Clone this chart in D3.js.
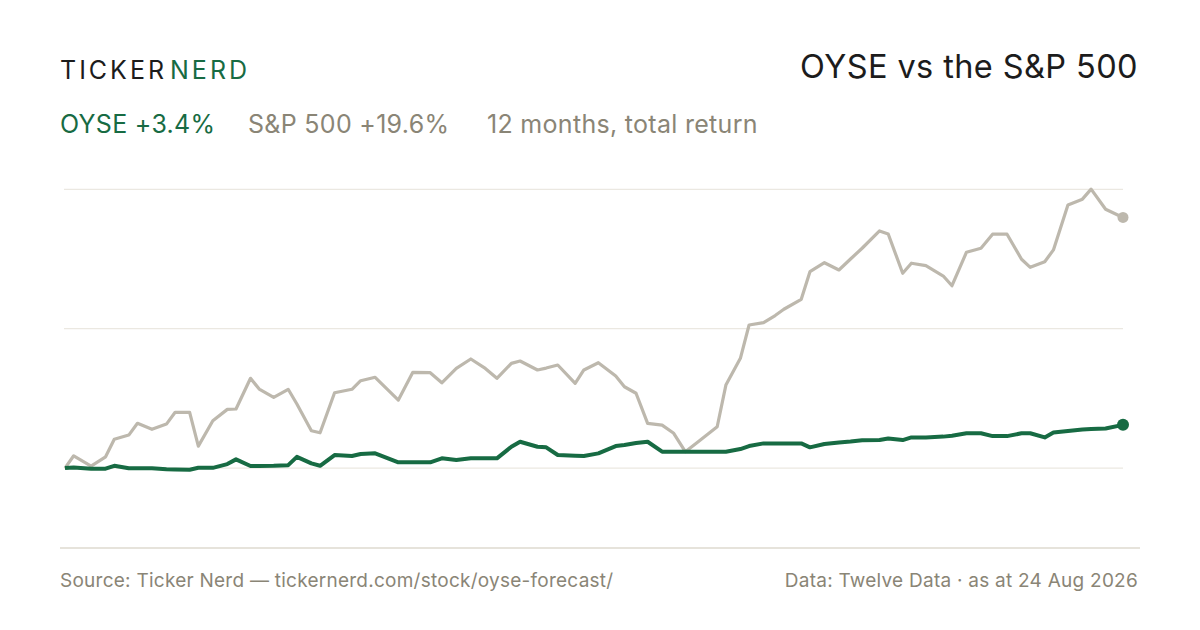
<!DOCTYPE html>
<html lang="en">
<head>
<meta charset="UTF-8">
<title>OYSE vs the S&amp;P 500</title>
<style>
    body {
        margin: 0;
        padding: 0;
        background: #ffffff;
    }
    svg text {
        font-family: Inter, "Noto Sans", sans-serif;
    }
</style>
</head>
<body>
<div id="chart"></div>
<script src="https://cdn.jsdelivr.net/npm/d3@7"></script>
<script>
    // days since 24 Aug 2025 (sample points of the series)
    const days = [0, 3, 9, 14, 17, 22, 25, 30, 35, 38, 43, 46, 51, 56, 59, 64, 67, 72, 77, 80,
        85, 88, 93, 99, 102, 107, 115, 120, 126, 130, 135, 140, 145, 149, 154, 157, 163, 166, 170, 176,
        179, 184, 190, 193, 197, 201, 206, 210, 214, 218, 225, 228, 233, 236, 241, 245, 248, 254, 257, 262,
        267, 271, 275, 281, 284, 289, 292, 297, 303, 306, 311, 316, 320, 325, 330, 333, 338, 341, 346, 351,
        354, 359, 365];

    // total return, %
    const spxReturn = [0, 0.96, 0.16, 0.88, 2.25, 2.58, 3.50, 3.03, 3.44, 4.36, 4.36, 1.72, 3.70, 4.59, 4.62, 7.02, 6.18, 5.53, 6.16, 5.01,
        2.92, 2.76, 5.89, 6.16, 6.83, 7.10, 5.32, 7.49, 7.46, 6.67, 7.80, 8.53, 7.79, 7.02, 8.19, 8.37, 7.67, 7.82, 8.06, 6.63,
        7.67, 8.24, 7.20, 6.36, 5.85, 3.50, 3.36, 2.72, 1.28, 1.98, 3.23, 6.49, 8.58, 11.19, 11.37, 11.93, 12.42, 13.20, 15.36, 16.06,
        15.49, 16.35, 17.19, 18.54, 18.31, 15.23, 16.02, 15.83, 15.02, 14.26, 16.88, 17.19, 18.29, 18.29, 16.33, 15.70, 16.14, 17.06, 20.58, 21.03,
        21.81, 20.24, 19.6];

    const oyseReturn = [0, 0.05, -0.05, -0.05, 0.18, -0.02, -0.02, -0.02, -0.10, -0.12, -0.13, 0.02, 0.02, 0.31, 0.68, 0.16, 0.16, 0.18, 0.23, 0.88,
        0.37, 0.18, 1.02, 0.94, 1.10, 1.15, 0.45, 0.45, 0.45, 0.76, 0.63, 0.76, 0.76, 0.76, 1.67, 2.06, 1.67, 1.62, 1.02, 0.96,
        0.94, 1.15, 1.72, 1.80, 1.96, 2.06, 1.28, 1.28, 1.28, 1.28, 1.28, 1.28, 1.49, 1.72, 1.93, 1.93, 1.93, 1.93, 1.62, 1.88,
        2.00, 2.07, 2.17, 2.19, 2.31, 2.19, 2.40, 2.40, 2.46, 2.53, 2.72, 2.72, 2.50, 2.50, 2.72, 2.72, 2.40, 2.78, 2.90, 3.01,
        3.05, 3.09, 3.38];

    const gridValues = [0, 10.9, 21.8];

    const w = 1200;
    const h = 630;

    const green = "#176b43";
    const grey = "#bdb8ad";
    const mutedText = "#8a8576";

    const svg = d3.select("#chart")
        .append("svg")
        .attr("width", w)
        .attr("height", h)
        .attr("viewBox", `0 0 ${w} ${h}`);

    // header
    const brand = svg.append("text")
        .attr("x", 60)
        .attr("y", 79)
        .style("font-size", "25px")
        .style("letter-spacing", "3px");
    brand.append("tspan").attr("fill", "#1c1c1c").text("TICKER");
    brand.append("tspan").attr("fill", green).attr("dx", 3).text("NERD");

    svg.append("text")
        .attr("x", 1138)
        .attr("y", 78)
        .attr("text-anchor", "end")
        .attr("fill", "#1c1c1c")
        .style("font-size", "32.5px")
        .style("letter-spacing", "0.4px")
        .text("OYSE vs the S&P 500");

    const subtitle = [
        { x: 60, fill: green, text: "OYSE +3.4%" },
        { x: 248, fill: mutedText, text: "S&P 500 +19.6%" },
        { x: 487, fill: mutedText, text: "12 months, total return" }
    ];

    svg.append("g")
        .selectAll("text")
        .data(subtitle)
        .enter()
        .append("text")
        .attr("x", d => d.x)
        .attr("y", 133)
        .attr("fill", d => d.fill)
        .style("font-size", "25px")
        .style("letter-spacing", "0.3px")
        .text(d => d.text);

    // scales
    const x = d3.scaleLinear()
        .domain([0, 365])
        .range([65, 1123]);

    const y = d3.scaleLinear()
        .domain([-6.25, 21.8])
        .range([548, 189.3]);

    // grid
    svg.append("g")
        .selectAll("line")
        .data(gridValues)
        .enter()
        .append("line")
        .attr("x1", 64)
        .attr("x2", 1123)
        .attr("y1", d => y(d))
        .attr("y2", d => y(d))
        .attr("stroke", "#ebe8e1")
        .attr("stroke-width", 1.2);

    // bottom rule
    svg.append("line")
        .attr("x1", 60)
        .attr("x2", 1140)
        .attr("y1", 548)
        .attr("y2", 548)
        .attr("stroke", "#dedacf")
        .attr("stroke-width", 1.5);

    const line = d3.line()
        .x((d, i) => x(days[i]))
        .y(d => y(d));

    svg.append("path")
        .datum(spxReturn)
        .attr("d", line)
        .attr("fill", "none")
        .attr("stroke", grey)
        .attr("stroke-width", 3.2)
        .attr("stroke-linejoin", "round");

    svg.append("path")
        .datum(oyseReturn)
        .attr("d", line)
        .attr("fill", "none")
        .attr("stroke", green)
        .attr("stroke-width", 4)
        .attr("stroke-linejoin", "round");

    const last = days.length - 1;

    svg.append("circle")
        .attr("cx", x(days[last]))
        .attr("cy", y(spxReturn[last]))
        .attr("r", 5.5)
        .attr("fill", grey);

    svg.append("circle")
        .attr("cx", x(days[last]))
        .attr("cy", y(oyseReturn[last]))
        .attr("r", 6)
        .attr("fill", green);

    // footer
    svg.append("text")
        .attr("x", 60)
        .attr("y", 587)
        .attr("fill", mutedText)
        .style("font-size", "19px")
        .style("letter-spacing", "0.25px")
        .text("Source: Ticker Nerd \u2014 tickernerd.com/stock/oyse-forecast/");

    svg.append("text")
        .attr("x", 1138)
        .attr("y", 587)
        .attr("text-anchor", "end")
        .attr("fill", mutedText)
        .style("font-size", "19px")
        .style("letter-spacing", "0.25px")
        .text("Data: Twelve Data \u00b7 as at 24 Aug 2026");
</script>
</body>
</html>
